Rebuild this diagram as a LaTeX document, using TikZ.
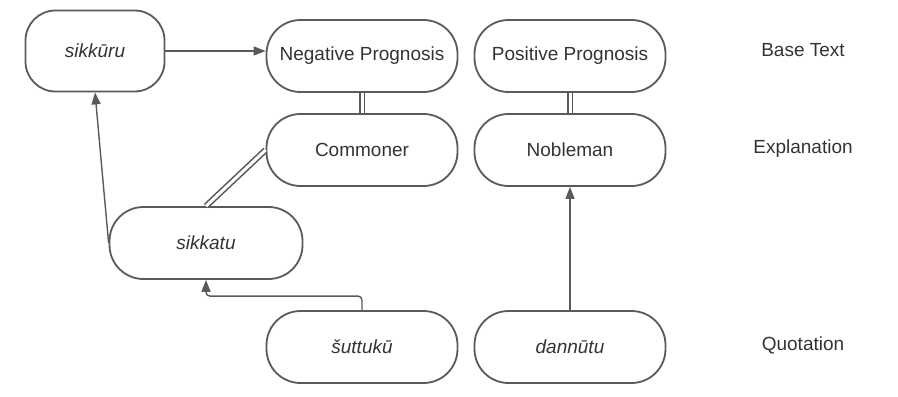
\documentclass[tikz,border=0pt]{standalone}
\usepackage{fontspec}
\setmainfont{Liberation Sans}
\usetikzlibrary{arrows.meta}
\definecolor{linegray}{HTML}{5A5A5A}
\definecolor{textgray}{HTML}{333333}
\tikzset{
  term/.style={draw=linegray, line width=0.9pt, rounded corners=17pt, text=textgray,
    minimum width=95.5pt, minimum height=36pt, inner sep=0pt},
  level/.style={text=textgray},
  arr/.style={draw=linegray, line width=0.7pt, -{Triangle[length=6pt,width=4.5pt]}},
  eq/.style={draw=linegray, line width=0.8pt, double, double distance=1.5pt}
}
\begin{document}
\begin{tikzpicture}[x=0.5pt, y=-0.5pt, font=\fontsize{9.5}{11}\selectfont]
    \useasboundingbox (0, 0) rectangle (898, 396);
    % top row
    \node[term, minimum width=69.5pt, minimum height=40.5pt, rounded corners=15pt] (sikkuru) at (95, 51) {\textit{sikkūru}};
    \node[term] (negprog) at (362, 56) {Negative Prognosis};
    \node[term] (posprog) at (570, 56) {Positive Prognosis};
    % explanations
    \node[term] (commoner) at (362, 150) {Commoner};
    \node[term] (nobleman) at (570, 150) {Nobleman};
    \node[term, minimum width=96.5pt] (sikkatu) at (206, 243) {\textit{sikkatu}};
    % quotations
    \node[term] (suttuku) at (362, 347) {\textit{šuttukū}};
    \node[term] (dannutu) at (570, 347) {\textit{dannūtu}};
    % row labels
    \node[level] (lbase) at (803, 50) {Base Text};
    \node[level] (lexpl) at (803, 149) {Explanation};
    \node[level] (lquot) at (803, 345) {Quotation};
    % connectors
    \draw[arr] (sikkuru.east) -- (sikkuru.east -| negprog.west);
    \draw[eq] (negprog) -- (commoner);
    \draw[eq] (posprog) -- (nobleman);
    \draw[eq] (commoner.west) -- (sikkatu.north);
    \draw[arr] (sikkatu.west) -- (sikkuru.south);
    \draw[arr, rounded corners=2pt] (suttuku.north) -- ++(0, -14) -| (sikkatu.south);
    \draw[arr] (dannutu) -- (nobleman);
\end{tikzpicture}
\end{document}
